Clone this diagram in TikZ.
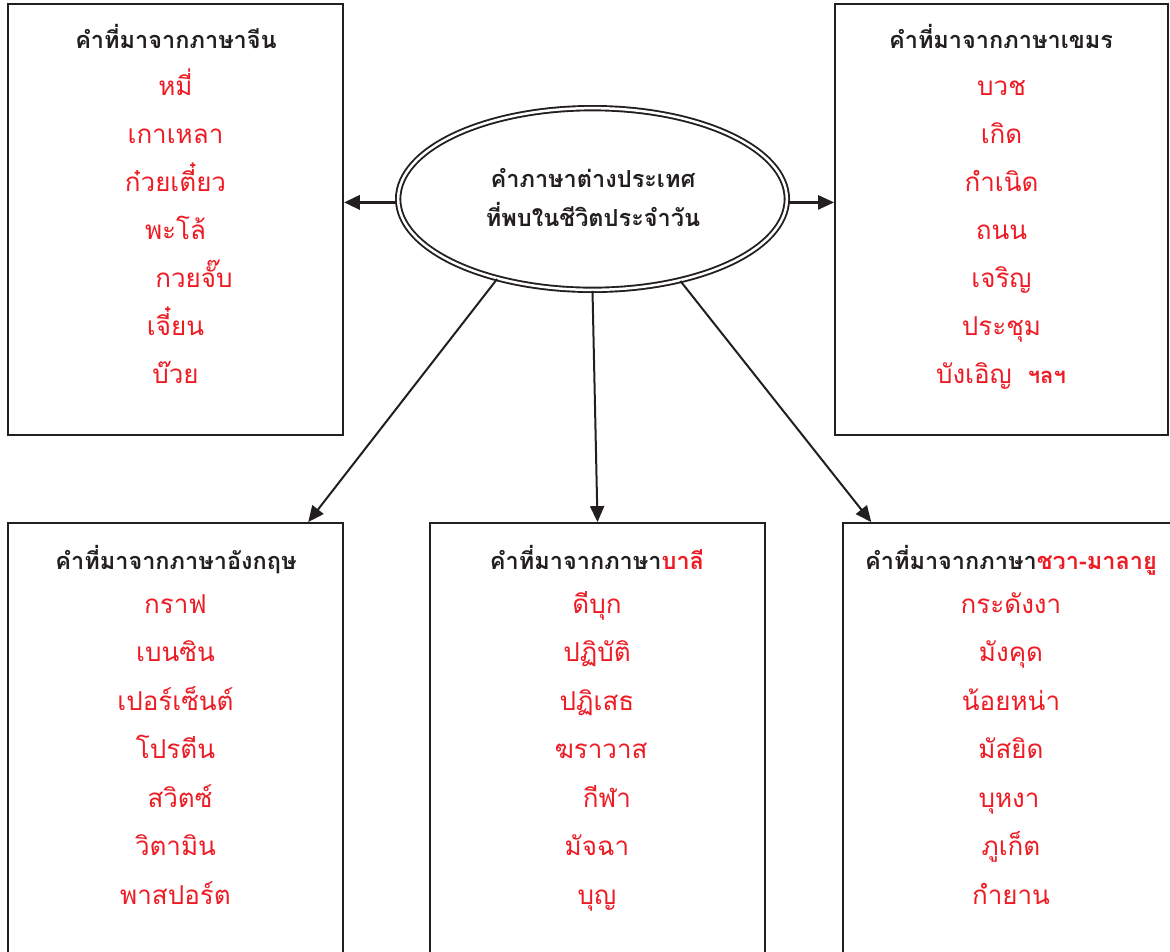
\documentclass[tikz,border=0pt]{standalone}
\usepackage{fontspec}
\newfontfamily\thai[Script=Thai]{Loma}
\usetikzlibrary{arrows.meta,shapes.geometric,calc}
\definecolor{ink}{RGB}{35,31,32}
\definecolor{thred}{RGB}{237,28,36}
\begin{document}
\begin{tikzpicture}[x=1pt,y=-1pt,
  box/.style={draw=ink, line width=1.8pt, rectangle, inner sep=0pt},
  head/.style={anchor=base, font=\thai\bfseries\fontsize{23.5}{28}\selectfont, text=ink, inner sep=0pt},
  word/.style={anchor=base, font=\thai\fontsize{26}{30}\selectfont, text=thred, inner sep=0pt, text height=20pt, text depth=6pt},
  arr/.style={draw=ink, line width=2pt, -{Triangle[length=16pt,width=14pt]}},
]
\useasboundingbox (0,0) rectangle (1170,951);
% boxes
\node[box, minimum width=335pt, minimum height=431pt] (tl) at (175.5,219.5) {};
\node[box, minimum width=333pt, minimum height=431pt] (tr) at (1001.5,219.5) {};
\node[box, minimum width=335pt, minimum height=437pt] (bl) at (175.5,741.5) {};
\node[box, minimum width=335pt, minimum height=437pt] (bm) at (597.5,741.5) {};
\node[box, minimum width=337pt, minimum height=437pt] (br) at (1011.5,741.5) {};
% central ellipse
\node[ellipse, draw=ink, double=white, double distance=2.5pt, line width=1.9pt,
      minimum width=388.7pt, minimum height=181.7pt, inner sep=0pt] (ell) at (592.5,199) {};
\node[head] (c1) at (593,187) {คำภาษาต่างประเทศ};
\node[head] (c2) at (593,226.5) {ที่พบในชีวิตประจำวัน};
% arrows
\draw[arr, line width=3.6pt] (ell.181) -- (tl.east |- ell.181);
\draw[arr, line width=2.6pt] (ell.359) -- (tr.west |- ell.359);
\draw[arr] (ell.220) -- ($(bl.north west)!0.894!(bl.north east)$);
\draw[arr] (ell.south) -- (bm.north);
\draw[arr] (ell.317) -- ($(br.north west)!0.086!(br.north east)$);
% top-left: Chinese
\node[head] (h1) at (176,48) {คำที่มาจากภาษาจีน};
\node[word] (a1) at (175.5,95) {หมี่};
\node[word] (a2) at (175.5,143) {เกาเหลา};
\node[word] (a3) at (175.5,191) {ก๋วยเตี๋ยว};
\node[word] (a4) at (175.5,239) {พะโล้};
\node[word] (a5) at (194,287) {กวยจั๊บ};
\node[word] (a6) at (175.5,335) {เจี๋ยน};
\node[word] (a7) at (175.5,383) {บ๊วย};
% top-right: Khmer
\node[head] (h2) at (1001,48) {คำที่มาจากภาษาเขมร};
\node[word] (b1) at (1001.5,95) {บวช};
\node[word] (b2) at (1001.5,143) {เกิด};
\node[word] (b3) at (1001.5,191) {กำเนิด};
\node[word] (b4) at (1001.5,239) {ถนน};
\node[word] (b5) at (1001.5,287) {เจริญ};
\node[word] (b6) at (1001.5,335) {ประชุม};
\node[word] (b7) at (1001,383) {บังเอิญ\hspace{16pt}{\bfseries\fontsize{22}{26}\selectfont ฯลฯ}};
% bottom-left: English
\node[head] (h3) at (176,569) {คำที่มาจากภาษาอังกฤษ};
\node[word] (d1) at (175.5,613) {กราฟ};
\node[word] (d2) at (175.5,661.5) {เบนซิน};
\node[word] (d3) at (175.5,710) {เปอร์เซ็นต์};
\node[word] (d4) at (175.5,758.5) {โปรตีน};
\node[word] (d5) at (180,807) {สวิตซ์};
\node[word] (d6) at (175.5,855.5) {วิตามิน};
\node[word] (d7) at (175.5,904) {พาสปอร์ต};
% bottom-middle: Pali
\node[head] (h4) at (597,569) {คำที่มาจากภาษา\textcolor{thred}{บาลี}};
\node[word] (e1) at (597,613) {ดีบุก};
\node[word] (e2) at (597,661.5) {ปฏิบัติ};
\node[word] (e3) at (597,710) {ปฏิเสธ};
\node[word] (e4) at (601,758.5) {ฆราวาส};
\node[word] (e5) at (607,807) {กีฬา};
\node[word] (e6) at (597,855.5) {มัจฉา};
\node[word] (e7) at (597,904) {บุญ};
% bottom-right: Javanese-Malay
\node[head] (h5) at (1011,569) {คำที่มาจากภาษา\textcolor{thred}{ชวา-มาลายู}};
\node[word] (f1) at (1011,613) {กระดังงา};
\node[word] (f2) at (1011,661.5) {มังคุด};
\node[word] (f3) at (1011,710) {น้อยหน่า};
\node[word] (f4) at (1011,758.5) {มัสยิด};
\node[word] (f5) at (1009,807) {บุหงา};
\node[word] (f6) at (1011,855.5) {ภูเก็ต};
\node[word] (f7) at (1011,904) {กำยาน};
\end{tikzpicture}
\end{document}
